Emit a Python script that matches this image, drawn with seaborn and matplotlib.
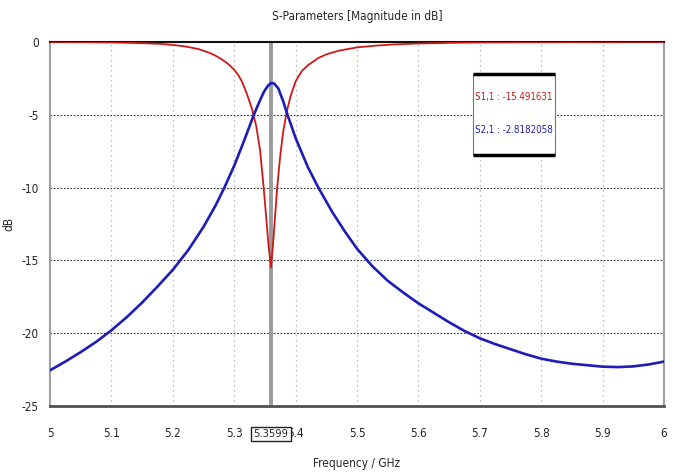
import numpy as np
import pandas as pd
import matplotlib
matplotlib.use("Agg")
import matplotlib.pyplot as plt
import matplotlib.patches as mpatches
import seaborn as sns

# S2,1 (blue)
s21_freq = [5.00, 5.025, 5.05, 5.075, 5.10, 5.125, 5.15, 5.175, 5.20, 5.225,
            5.25, 5.27, 5.284, 5.30, 5.315, 5.332, 5.34, 5.348, 5.355, 5.36,
            5.365, 5.372, 5.38, 5.386, 5.40, 5.42, 5.437, 5.46, 5.48, 5.50,
            5.525, 5.55, 5.575, 5.60, 5.625, 5.65, 5.675, 5.70, 5.725, 5.75,
            5.775, 5.80, 5.825, 5.85, 5.875, 5.90, 5.925, 5.95, 5.975, 6.00]
s21_db = [-22.55, -21.95, -21.3, -20.6, -19.8, -18.9, -17.9, -16.8, -15.65, -14.3,
          -12.7, -11.2, -10.0, -8.5, -6.9, -5.0, -4.2, -3.45, -3.0, -2.82,
          -2.85, -3.2, -4.1, -4.9, -6.6, -8.6, -10.0, -11.7, -13.0, -14.2,
          -15.4, -16.4, -17.2, -17.95, -18.6, -19.25, -19.85, -20.35, -20.75, -21.1,
          -21.45, -21.75, -21.95, -22.1, -22.2, -22.3, -22.33, -22.28, -22.15, -21.95]

# S1,1 (red)
s11_freq = [5.00, 5.05, 5.10, 5.15, 5.18, 5.20, 5.22, 5.243, 5.26, 5.27,
            5.28, 5.29, 5.30, 5.307, 5.313, 5.321, 5.329, 5.336, 5.342, 5.348,
            5.352, 5.356, 5.3599, 5.363, 5.366, 5.370, 5.375, 5.380, 5.386, 5.392,
            5.40, 5.41, 5.42, 5.437, 5.45, 5.47, 5.50, 5.53, 5.56, 5.60,
            5.65, 5.70, 5.80, 6.00]
s11_db = [0.0, -0.01, -0.03, -0.08, -0.13, -0.2, -0.3, -0.5, -0.75, -0.95,
          -1.2, -1.5, -1.9, -2.3, -2.75, -3.6, -4.6, -5.8, -7.4, -10.0,
          -12.0, -14.0, -15.49, -14.0, -12.3, -10.0, -7.8, -6.1, -4.7, -3.7,
          -2.7, -2.0, -1.6, -1.1, -0.85, -0.6, -0.37, -0.25, -0.17, -0.1,
          -0.06, -0.03, -0.01, 0.0]

x_ticks = [5.0, 5.1, 5.2, 5.3, 5.4, 5.5, 5.6, 5.7, 5.8, 5.9, 6.0]
x_tick_labels = ["5", "5.1", "5.2", "5.3", "5.4", "5.5", "5.6", "5.7", "5.8", "5.9", "6"]
y_ticks = [0, -5, -10, -15, -20, -25]

marker_freq = 5.3599
marker_label = "5.3599"
legend_lines = ["S1,1 : -15.491631", "S2,1 : -2.8182058"]

RED = "#d01818"
BLUE = "#1c1cb8"

sns.set_style("white")
plt.rcParams["font.family"] = ["DejaVu Sans", "Liberation Sans"]
plt.rcParams["font.stretch"] = "condensed"

fig = plt.figure(figsize=(6.84, 4.74), dpi=100)
ax = fig.add_axes([0.0731, 0.1435, 0.8977, 0.7679])

s21 = pd.DataFrame({"freq": s21_freq, "db": s21_db})
s11 = pd.DataFrame({"freq": s11_freq, "db": s11_db})

# grid
for xv in x_ticks[1:-1]:
    ax.axvline(xv, color="#a8a8a8", lw=0.9, ls=(0, (1, 3)), zorder=0)
for yv in y_ticks[1:-1]:
    ax.axhline(yv, color="#303030", lw=0.8, ls=(0, (1.5, 1.5)), zorder=0)

ax.axvline(marker_freq, color="#9a9a9a", lw=2.8, zorder=1)

sns.lineplot(data=s11, x="freq", y="db", ax=ax, color=RED, lw=1.3, zorder=3)
sns.lineplot(data=s21, x="freq", y="db", ax=ax, color=BLUE, lw=1.9, zorder=4)

ax.set_xlim(5.0, 6.0)
ax.set_ylim(-25, 0)
ax.set_xticks(x_ticks)
ax.set_xticklabels(x_tick_labels, fontsize=8.5)
ax.set_yticks(y_ticks)
ax.set_yticklabels([str(v) for v in y_ticks], fontsize=8.5)
ax.tick_params(axis="x", length=3, width=0.8, color="#606060", pad=12)
ax.tick_params(axis="y", length=3, width=0.8, color="#606060", pad=5)

for side in ["left", "right"]:
    ax.spines[side].set_color("#a0a0a0")
    ax.spines[side].set_linewidth(1.5)
ax.spines["top"].set_color("#111111")
ax.spines["top"].set_linewidth(1.5)
ax.spines["bottom"].set_color("#505050")
ax.spines["bottom"].set_linewidth(2.0)

ax.set_title("S-Parameters [Magnitude in dB]", fontsize=8.5, pad=16)
ax.set_xlabel("Frequency / GHz", fontsize=8.5)
ax.set_ylabel("dB", fontsize=8.5)
ax.yaxis.set_label_coords(-0.056, 0.5)
ax.xaxis.set_label_coords(0.5, -0.14)

# marker label on the x axis
ax.annotate(marker_label, xy=(marker_freq, 0), xycoords=("data", "axes fraction"),
            xytext=(0, -20), textcoords="offset points", ha="center", va="center",
            fontsize=8,
            bbox=dict(boxstyle="square,pad=0.2", fc="white", ec="#222222", lw=1.0))

# marker readout box
box = mpatches.Rectangle((0.689, 0.690), 0.133, 0.222, transform=ax.transAxes,
                         fc="white", ec="#777777", lw=0.8, zorder=5)
ax.add_patch(box)
ax.plot([0.689, 0.822], [0.912, 0.912], transform=ax.transAxes, color="black",
        lw=2.5, zorder=6, solid_capstyle="butt")
ax.plot([0.689, 0.822], [0.690, 0.690], transform=ax.transAxes, color="black",
        lw=2.5, zorder=6, solid_capstyle="butt")
ax.text(0.7555, 0.849, legend_lines[0], transform=ax.transAxes, color=RED,
        ha="center", va="center", fontsize=7, zorder=7)
ax.text(0.7555, 0.758, legend_lines[1], transform=ax.transAxes, color=BLUE,
        ha="center", va="center", fontsize=7, zorder=7)

fig.savefig("out.png", dpi=100)
